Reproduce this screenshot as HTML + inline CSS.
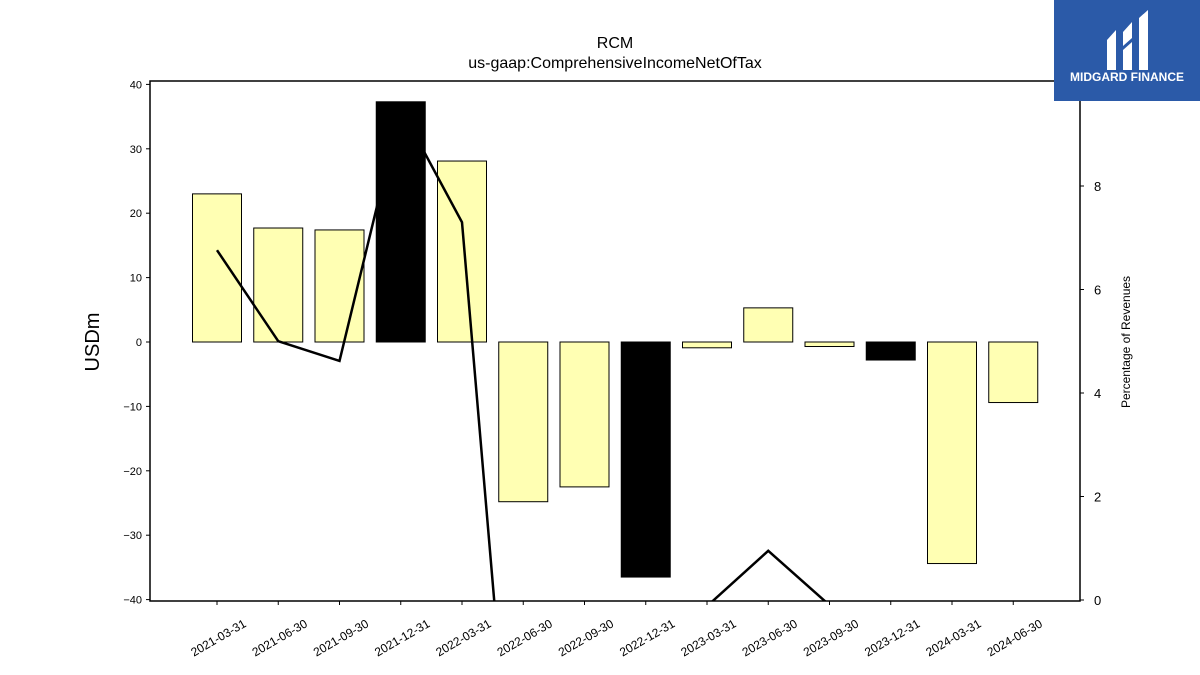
<!DOCTYPE html>
<html style="margin:0;overflow:hidden"><head><meta charset="utf-8"><style>
html,body{margin:0;padding:0;background:#fff;width:1200px;height:675px;overflow:hidden;font-family:"Liberation Sans",sans-serif}
svg{display:block}
</style></head><body>
<svg id="chart" width="1200" height="675" xmlns="http://www.w3.org/2000/svg">
<text x="615" y="48" text-anchor="middle" font-size="16">RCM</text>
<text x="615" y="68" text-anchor="middle" font-size="16">us-gaap:ComprehensiveIncomeNetOfTax</text>
<g id="bars"></g><g id="line"></g><g id="axes"></g>
<rect x="1054" y="0" width="146" height="101" fill="#2b5aa8"/>
<path d="M1107 40 L1116 30 L1116 70 L1107 70 Z M1123 32 L1132 22 L1132 38 L1123 46 Z M1123 50 L1132 42 L1132 70 L1123 70 Z M1139 18 L1148 10 L1148 70 L1139 70 Z" fill="#fff"/>
<text x="1127" y="81" text-anchor="middle" font-size="12" font-weight="bold" fill="#fff">MIDGARD FINANCE</text>
</svg>
<script>
const categories=["2021-03-31","2021-06-30","2021-09-30","2021-12-31","2022-03-31","2022-06-30","2022-09-30","2022-12-31","2023-03-31","2023-06-30","2023-09-30","2023-12-31","2024-03-31","2024-06-30"];
const values=[23.0,17.7,17.4,37.3,28.1,-24.8,-22.5,-36.5,-0.9,5.3,-0.7,-2.8,-34.4,-9.4];
const annual=[false,false,false,true,false,false,false,true,false,false,false,true,false,false];
const pctRevenue=[6.76,5.0,4.62,9.5,7.3,-6.6,-6,-8,-0.12,0.95,-0.1,-2,-3,-2];
const leftTicks=[-40,-30,-20,-10,0,10,20,30,40];
const rightTicks=[0,2,4,6,8];
const NS="http://www.w3.org/2000/svg";
const L=150,R=1080,T=81,B=601;
const yL=v=>342-v*6.44;
const yR=v=>600-v*51.75;
const xC=i=>217+i*61.25;
const bw=49;
function el(t,a,p){const e=document.createElementNS(NS,t);for(const k in a)e.setAttribute(k,a[k]);p.appendChild(e);return e;}
const bars=document.getElementById('bars'),line=document.getElementById('line'),axes=document.getElementById('axes');
const svg=document.getElementById('chart');
const defs=el('defs',{},svg);const cp=el('clipPath',{id:'clip'},defs);el('rect',{x:L,y:T,width:R-L,height:B-T},cp);
values.forEach((v,i)=>{
 const y0=yL(0),y1=yL(v);
 const r=el('rect',{x:xC(i)-bw/2,y:Math.min(y0,y1),width:bw,height:Math.abs(y1-y0),fill:annual[i]?'#000':'#ffffb3',stroke:'#000','stroke-width':1},bars);
 
 
});
const pts=pctRevenue.map((v,i)=>xC(i)+','+yR(v)).join(' ');
const pl=el('polyline',{points:pts,fill:'none',stroke:'#000','stroke-width':2.5,'clip-path':'url(#clip)'},line);


const fr=el('rect',{x:L,y:T,width:R-L,height:B-T,fill:'none',stroke:'#000','stroke-width':1.5},axes);


leftTicks.forEach(v=>{
 el('line',{x1:L-4,x2:L,y1:yL(v),y2:yL(v),stroke:'#000'},axes);
 const t=el('text',{x:L-8,y:yL(v)+4,'text-anchor':'end','font-size':11},axes);
 t.textContent=v<0?'\u2212'+(-v):v;
 
 
});
rightTicks.forEach(v=>{
 el('line',{x1:R,x2:R+4,y1:yR(v),y2:yR(v),stroke:'#000'},axes);
 const t=el('text',{x:R+14,y:yR(v)+5,'font-size':13},axes);
 t.textContent=v;
 
 
});
categories.forEach((c,i)=>{
 el('line',{x1:xC(i),x2:xC(i),y1:B,y2:B+4,stroke:'#000'},axes);
 const ax=xC(i)+30,ay=B+25;
 const t=el('text',{x:ax,y:ay,'text-anchor':'end','font-size':12,transform:`rotate(-30 ${ax} ${ay})`},axes);
 t.textContent=c;
 
 
});
const yt=el('text',{x:99,y:342,'text-anchor':'middle','font-size':20,transform:'rotate(-90 99 342)'},axes);
yt.textContent='USDm';


const yt2=el('text',{x:1130,y:342,'text-anchor':'middle','font-size':12,transform:'rotate(-90 1130 342)'},axes);
yt2.textContent='Percentage of Revenues';


</script>
</body></html>
